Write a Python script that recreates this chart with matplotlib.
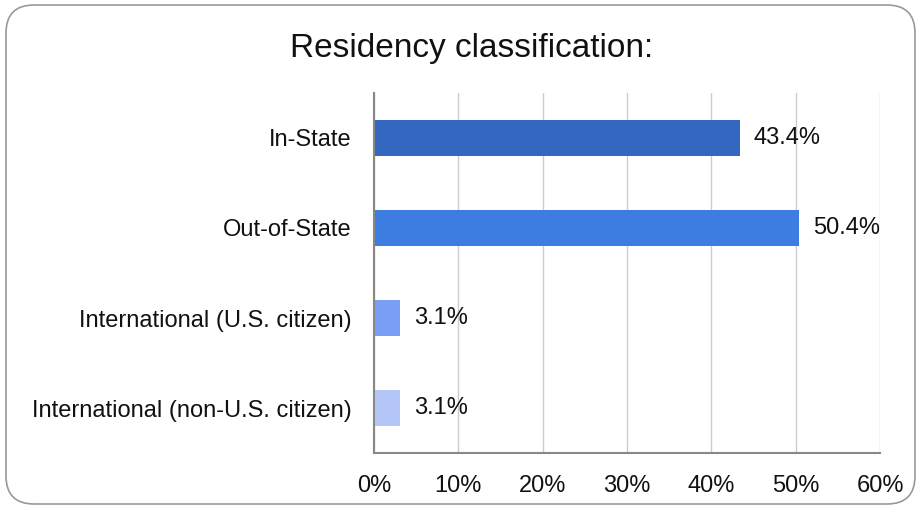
import matplotlib
matplotlib.use("Agg")
import matplotlib.pyplot as plt
from matplotlib.patches import FancyBboxPatch

plt.rcParams['font.family'] = ['Liberation Sans', 'DejaVu Sans']

# donnees
categories = ["In-State", "Out-of-State", "International (U.S. citizen)",
              "International (non-U.S. citizen)"]
values = [43.4, 50.4, 3.1, 3.1]
bar_colors = ['#3367c0', '#3d7de2', '#799ef4', '#b4c6f7']
xticks = [0, 10, 20, 30, 40, 50, 60]
xtick_labels = ["0%", "10%", "20%", "30%", "40%", "50%", "60%"]

fig = plt.figure(figsize=(9.21, 5.09), dpi=100)
ax = fig.add_axes([374 / 921, 1 - 453 / 509, 506 / 921, 360 / 509])

pos = list(range(len(categories)))
ax.barh(pos, values, height=0.4, color=bar_colors, zorder=3)
ax.set_ylim(len(categories) - 0.5, -0.5)
ax.set_xlim(0, 60)

ax.set_yticks(pos)
ax.set_yticklabels(categories, fontsize=17)
ax.set_xticks(xticks)
ax.set_xticklabels(xtick_labels, fontsize=17)
ax.tick_params(axis='both', length=0, pad=16, colors='#111111')

ax.grid(axis='x', color='#cccccc', linewidth=1, zorder=0)
for side in ['top', 'right']:
    ax.spines[side].set_visible(False)
for side in ['left', 'bottom']:
    ax.spines[side].set_color('#888888')
    ax.spines[side].set_linewidth(1.5)
    ax.spines[side].set_zorder(4)

# etiquettes de valeur
for i, v in enumerate(values):
    ax.annotate(f"{v}%", (v, i), textcoords="offset points", xytext=(10, 0),
                ha='left', va='center', fontsize=17, color='#111111', zorder=5)

fig.text(472 / 921, 1 - 48 / 509, "Residency classification:", fontsize=24,
         ha='center', va='center', color='#111111')

# cadre arrondi
border = FancyBboxPatch((6, 5), 909, 499, boxstyle="round,pad=0,rounding_size=28",
                        transform=None, facecolor='none', edgecolor='#999999',
                        linewidth=1.2)
fig.patches.append(border)

fig.savefig("out.png", dpi=100)
